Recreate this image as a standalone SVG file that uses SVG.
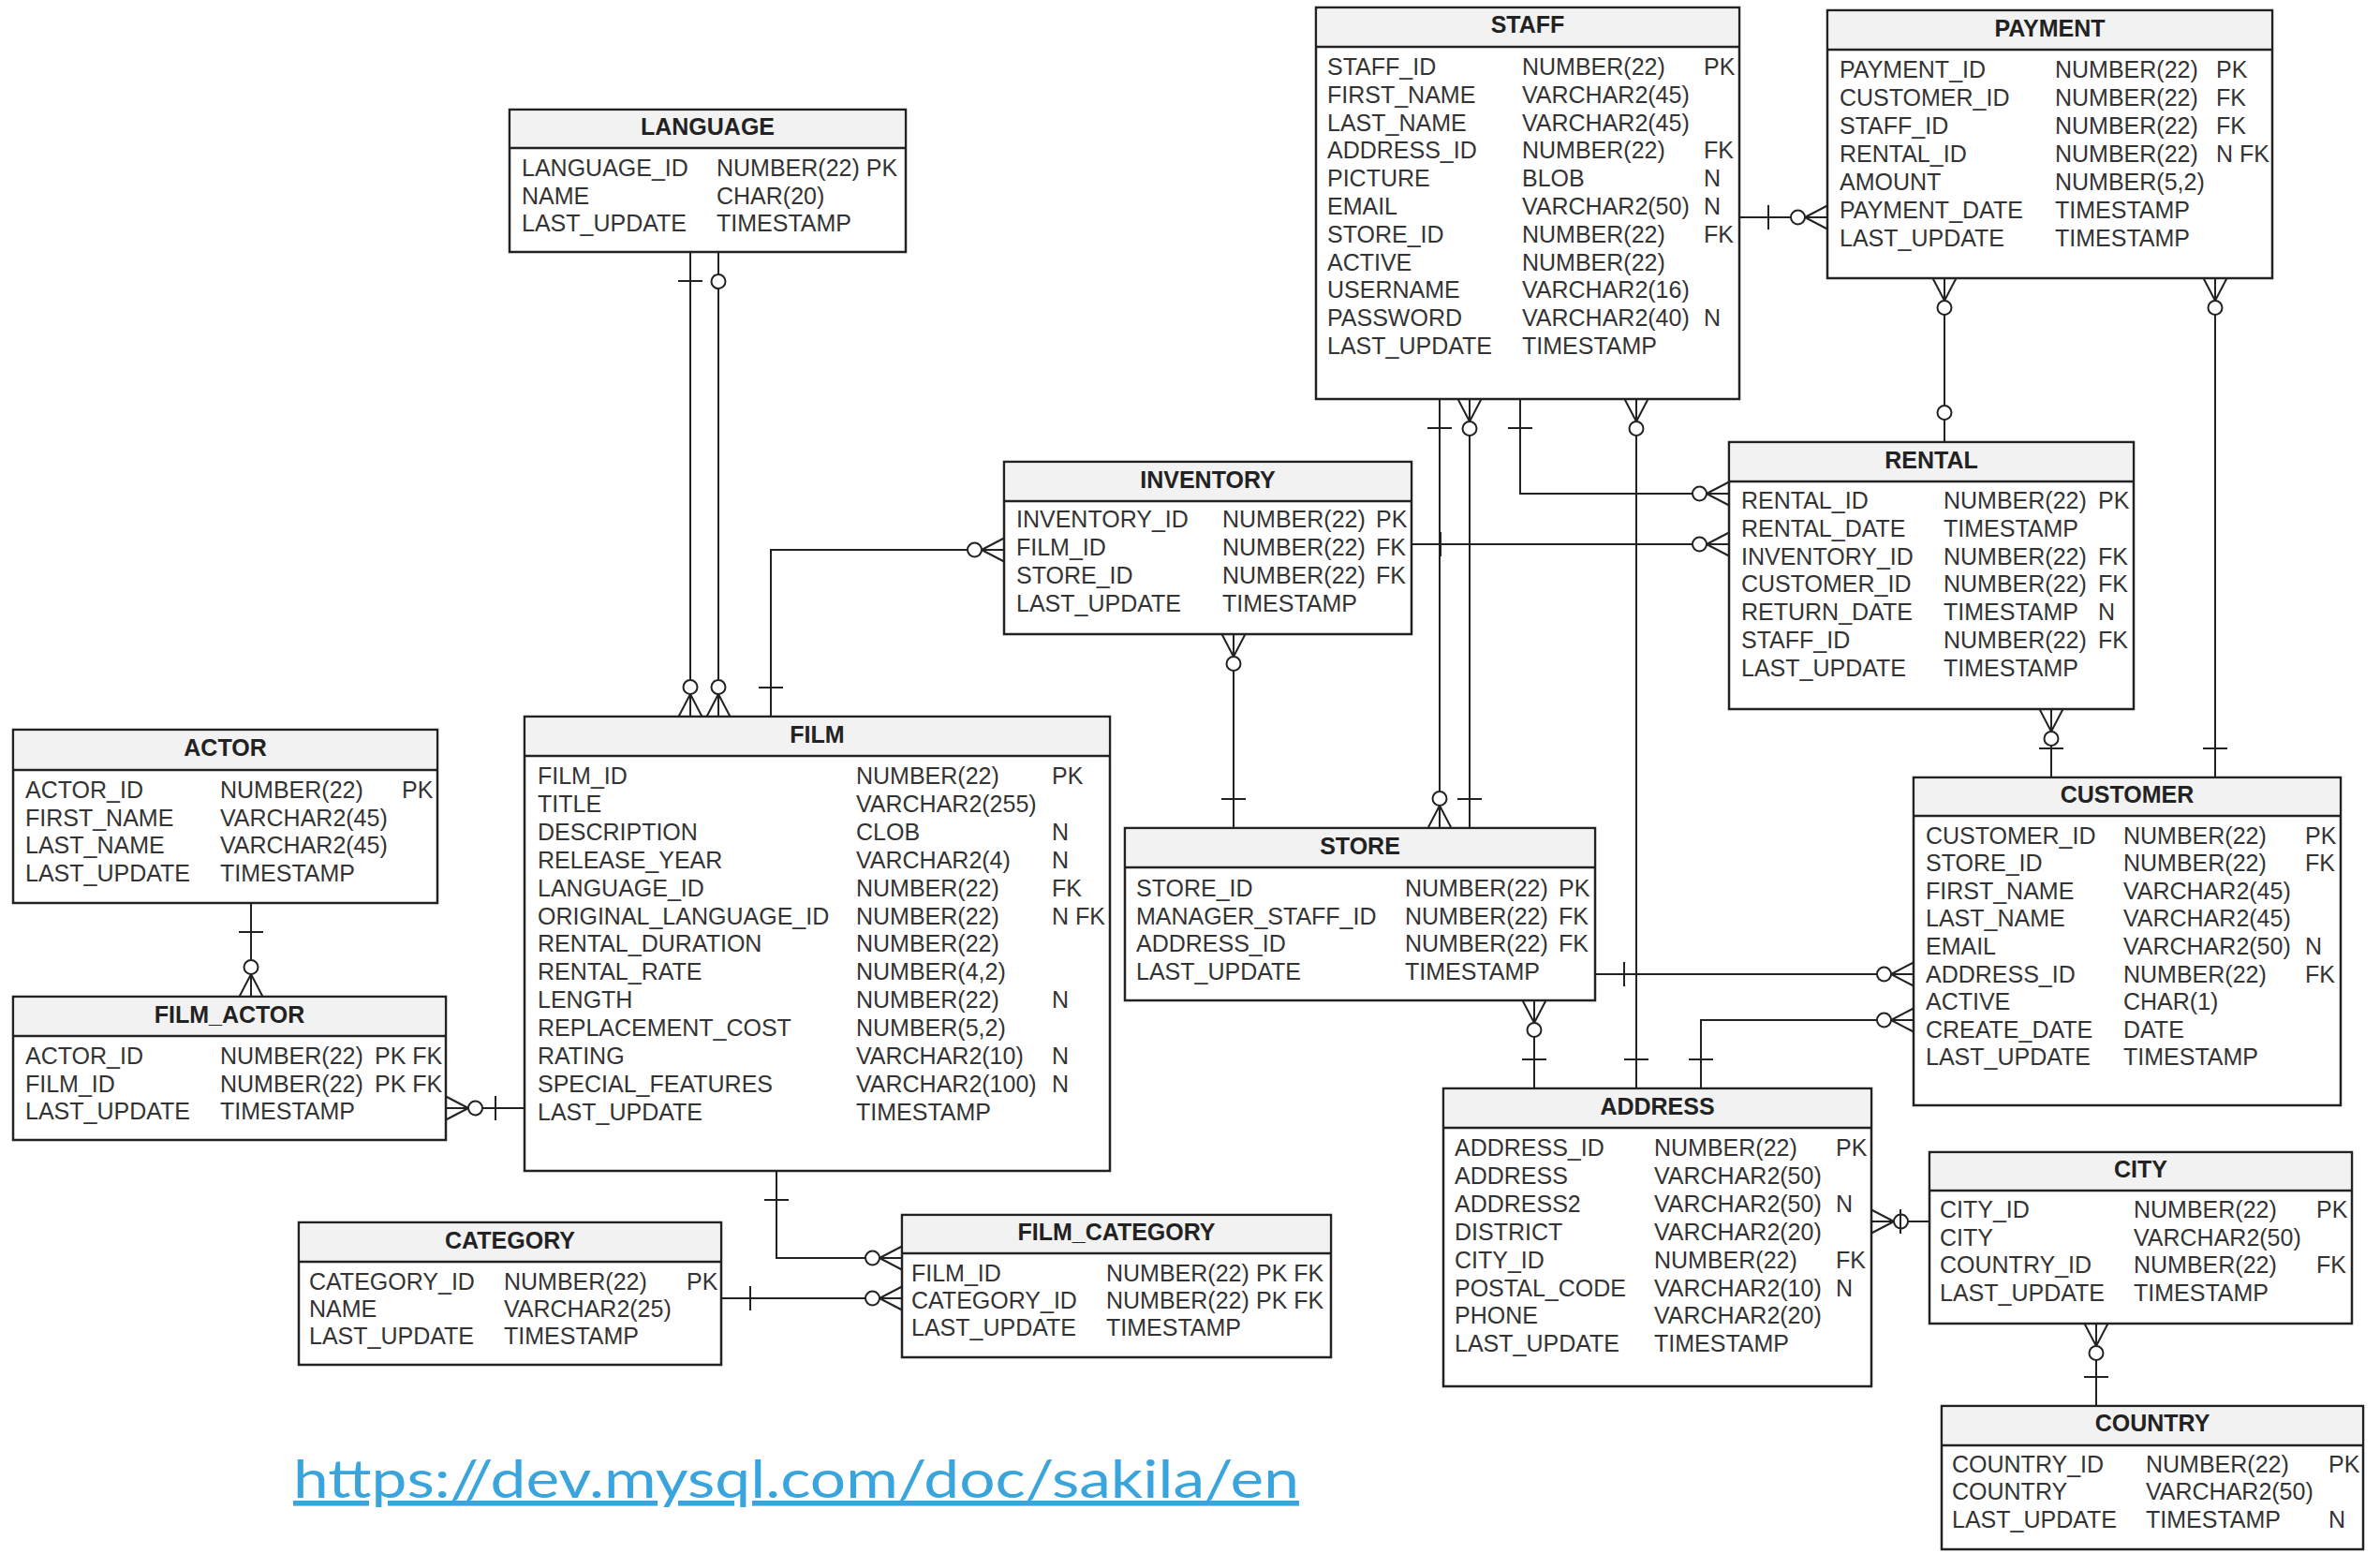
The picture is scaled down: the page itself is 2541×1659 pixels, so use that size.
<svg xmlns="http://www.w3.org/2000/svg" width="2541" height="1659" viewBox="0 0 2541 1659">
<style>
.box{fill:#fff;stroke:#222;stroke-width:2.5}
.hd{fill:#f2f2f2;stroke:none}
.hl{stroke:#222;stroke-width:2.5}
.t{font-family:"Liberation Sans",Arial,sans-serif;font-size:25px;font-weight:bold;fill:#222;text-anchor:middle}
.c{font-family:"Liberation Sans",Arial,sans-serif;font-size:25px;fill:#333}
.ln{fill:none;stroke:#222;stroke-width:2}
.url{font-family:Lato,"Open Sans",sans-serif;font-size:56px;fill:#3aa5dc;text-decoration:underline}
</style>
<defs>
<marker id="mo" markerUnits="userSpaceOnUse" orient="auto-start-reverse" overflow="visible" markerWidth="1" markerHeight="1" refX="0" refY="0">
<path d="M-24,0 L0,-12.5 M-24,0 L0,12.5" fill="none" stroke="#222" stroke-width="2"/>
<circle cx="-31.5" cy="0" r="7.5" fill="#fff" stroke="#222" stroke-width="2"/>
</marker>
<marker id="one" markerUnits="userSpaceOnUse" orient="auto-start-reverse" overflow="visible" markerWidth="1" markerHeight="1" refX="0" refY="0">
<path d="M-31,-13 V13" fill="none" stroke="#222" stroke-width="2"/>
</marker>
<marker id="zo" markerUnits="userSpaceOnUse" orient="auto-start-reverse" overflow="visible" markerWidth="1" markerHeight="1" refX="0" refY="0">
<circle cx="-31.5" cy="0" r="7.5" fill="#fff" stroke="#222" stroke-width="2"/>
</marker>
</defs>
<rect width="2541" height="1659" fill="#fff"/>

<g id="language">
<rect class="box" x="544" y="117" width="423" height="152"/>
<rect class="hd" x="545.5" y="118.5" width="420" height="39"/>
<line class="hl" x1="544" y1="158" x2="967" y2="158"/>
<text class="t" x="755.5" y="144">LANGUAGE</text>
<text class="c" x="557" y="188">LANGUAGE_ID</text><text class="c" x="765" y="188">NUMBER(22) PK</text>
<text class="c" x="557" y="217.5">NAME</text><text class="c" x="765" y="217.5">CHAR(20)</text>
<text class="c" x="557" y="247">LAST_UPDATE</text><text class="c" x="765" y="247">TIMESTAMP</text>
</g>

<g id="staff">
<rect class="box" x="1405" y="8" width="452" height="418"/>
<rect class="hd" x="1406.5" y="9.5" width="449" height="39"/>
<line class="hl" x1="1405" y1="50" x2="1857" y2="50"/>
<text class="t" x="1631" y="35">STAFF</text>
<text class="c" x="1417" y="80">STAFF_ID</text><text class="c" x="1625" y="80">NUMBER(22)</text><text class="c" x="1819" y="80">PK</text>
<text class="c" x="1417" y="109.8">FIRST_NAME</text><text class="c" x="1625" y="109.8">VARCHAR2(45)</text>
<text class="c" x="1417" y="139.6">LAST_NAME</text><text class="c" x="1625" y="139.6">VARCHAR2(45)</text>
<text class="c" x="1417" y="169.4">ADDRESS_ID</text><text class="c" x="1625" y="169.4">NUMBER(22)</text><text class="c" x="1819" y="169.4">FK</text>
<text class="c" x="1417" y="199.2">PICTURE</text><text class="c" x="1625" y="199.2">BLOB</text><text class="c" x="1819" y="199.2">N</text>
<text class="c" x="1417" y="229">EMAIL</text><text class="c" x="1625" y="229">VARCHAR2(50)</text><text class="c" x="1819" y="229">N</text>
<text class="c" x="1417" y="258.8">STORE_ID</text><text class="c" x="1625" y="258.8">NUMBER(22)</text><text class="c" x="1819" y="258.8">FK</text>
<text class="c" x="1417" y="288.6">ACTIVE</text><text class="c" x="1625" y="288.6">NUMBER(22)</text>
<text class="c" x="1417" y="318.4">USERNAME</text><text class="c" x="1625" y="318.4">VARCHAR2(16)</text>
<text class="c" x="1417" y="348.2">PASSWORD</text><text class="c" x="1625" y="348.2">VARCHAR2(40)</text><text class="c" x="1819" y="348.2">N</text>
<text class="c" x="1417" y="378">LAST_UPDATE</text><text class="c" x="1625" y="378">TIMESTAMP</text>
</g>

<g id="payment">
<rect class="box" x="1951" y="11" width="475" height="286"/>
<rect class="hd" x="1952.5" y="12.5" width="472" height="39"/>
<line class="hl" x1="1951" y1="53" x2="2426" y2="53"/>
<text class="t" x="2188.5" y="39">PAYMENT</text>
<text class="c" x="1964" y="83">PAYMENT_ID</text><text class="c" x="2194" y="83">NUMBER(22)</text><text class="c" x="2366" y="83">PK</text>
<text class="c" x="1964" y="113">CUSTOMER_ID</text><text class="c" x="2194" y="113">NUMBER(22)</text><text class="c" x="2366" y="113">FK</text>
<text class="c" x="1964" y="143">STAFF_ID</text><text class="c" x="2194" y="143">NUMBER(22)</text><text class="c" x="2366" y="143">FK</text>
<text class="c" x="1964" y="173">RENTAL_ID</text><text class="c" x="2194" y="173">NUMBER(22)</text><text class="c" x="2366" y="173">N FK</text>
<text class="c" x="1964" y="203">AMOUNT</text><text class="c" x="2194" y="203">NUMBER(5,2)</text>
<text class="c" x="1964" y="233">PAYMENT_DATE</text><text class="c" x="2194" y="233">TIMESTAMP</text>
<text class="c" x="1964" y="263">LAST_UPDATE</text><text class="c" x="2194" y="263">TIMESTAMP</text>
</g>

<g id="inventory">
<rect class="box" x="1072" y="493" width="435" height="184"/>
<rect class="hd" x="1073.5" y="494.5" width="432" height="39"/>
<line class="hl" x1="1072" y1="535" x2="1507" y2="535"/>
<text class="t" x="1289.5" y="521">INVENTORY</text>
<text class="c" x="1085" y="563">INVENTORY_ID</text><text class="c" x="1305" y="563">NUMBER(22)</text><text class="c" x="1469" y="563">PK</text>
<text class="c" x="1085" y="593">FILM_ID</text><text class="c" x="1305" y="593">NUMBER(22)</text><text class="c" x="1469" y="593">FK</text>
<text class="c" x="1085" y="623">STORE_ID</text><text class="c" x="1305" y="623">NUMBER(22)</text><text class="c" x="1469" y="623">FK</text>
<text class="c" x="1085" y="653">LAST_UPDATE</text><text class="c" x="1305" y="653">TIMESTAMP</text>
</g>

<g id="rental">
<rect class="box" x="1846" y="472" width="432" height="285"/>
<rect class="hd" x="1847.5" y="473.5" width="429" height="39"/>
<line class="hl" x1="1846" y1="514" x2="2278" y2="514"/>
<text class="t" x="2062" y="500">RENTAL</text>
<text class="c" x="1859" y="543">RENTAL_ID</text><text class="c" x="2075" y="543">NUMBER(22)</text><text class="c" x="2240" y="543">PK</text>
<text class="c" x="1859" y="572.8">RENTAL_DATE</text><text class="c" x="2075" y="572.8">TIMESTAMP</text>
<text class="c" x="1859" y="602.6">INVENTORY_ID</text><text class="c" x="2075" y="602.6">NUMBER(22)</text><text class="c" x="2240" y="602.6">FK</text>
<text class="c" x="1859" y="632.4">CUSTOMER_ID</text><text class="c" x="2075" y="632.4">NUMBER(22)</text><text class="c" x="2240" y="632.4">FK</text>
<text class="c" x="1859" y="662.2">RETURN_DATE</text><text class="c" x="2075" y="662.2">TIMESTAMP</text><text class="c" x="2240" y="662.2">N</text>
<text class="c" x="1859" y="692">STAFF_ID</text><text class="c" x="2075" y="692">NUMBER(22)</text><text class="c" x="2240" y="692">FK</text>
<text class="c" x="1859" y="721.8">LAST_UPDATE</text><text class="c" x="2075" y="721.8">TIMESTAMP</text>
</g>

<g id="actor">
<rect class="box" x="14" y="779" width="453" height="185"/>
<rect class="hd" x="15.5" y="780.5" width="450" height="40"/>
<line class="hl" x1="14" y1="822" x2="467" y2="822"/>
<text class="t" x="240.5" y="807">ACTOR</text>
<text class="c" x="27" y="852">ACTOR_ID</text><text class="c" x="235" y="852">NUMBER(22)</text><text class="c" x="429" y="852">PK</text>
<text class="c" x="27" y="881.6">FIRST_NAME</text><text class="c" x="235" y="881.6">VARCHAR2(45)</text>
<text class="c" x="27" y="911.2">LAST_NAME</text><text class="c" x="235" y="911.2">VARCHAR2(45)</text>
<text class="c" x="27" y="940.8">LAST_UPDATE</text><text class="c" x="235" y="940.8">TIMESTAMP</text>
</g>

<g id="film_actor">
<rect class="box" x="14" y="1064" width="462" height="153"/>
<rect class="hd" x="15.5" y="1065.5" width="459" height="39"/>
<line class="hl" x1="14" y1="1106" x2="476" y2="1106"/>
<text class="t" x="245" y="1092">FILM_ACTOR</text>
<text class="c" x="27" y="1136">ACTOR_ID</text><text class="c" x="235" y="1136">NUMBER(22)</text><text class="c" x="400" y="1136">PK FK</text>
<text class="c" x="27" y="1165.5">FILM_ID</text><text class="c" x="235" y="1165.5">NUMBER(22)</text><text class="c" x="400" y="1165.5">PK FK</text>
<text class="c" x="27" y="1195">LAST_UPDATE</text><text class="c" x="235" y="1195">TIMESTAMP</text>
</g>

<g id="film">
<rect class="box" x="560" y="765" width="625" height="485"/>
<rect class="hd" x="561.5" y="766.5" width="622" height="39"/>
<line class="hl" x1="560" y1="807" x2="1185" y2="807"/>
<text class="t" x="872.5" y="793">FILM</text>
<text class="c" x="574" y="837">FILM_ID</text><text class="c" x="914" y="837">NUMBER(22)</text><text class="c" x="1123" y="837">PK</text>
<text class="c" x="574" y="866.9">TITLE</text><text class="c" x="914" y="866.9">VARCHAR2(255)</text>
<text class="c" x="574" y="896.8">DESCRIPTION</text><text class="c" x="914" y="896.8">CLOB</text><text class="c" x="1123" y="896.8">N</text>
<text class="c" x="574" y="926.7">RELEASE_YEAR</text><text class="c" x="914" y="926.7">VARCHAR2(4)</text><text class="c" x="1123" y="926.7">N</text>
<text class="c" x="574" y="956.6">LANGUAGE_ID</text><text class="c" x="914" y="956.6">NUMBER(22)</text><text class="c" x="1123" y="956.6">FK</text>
<text class="c" x="574" y="986.5">ORIGINAL_LANGUAGE_ID</text><text class="c" x="914" y="986.5">NUMBER(22)</text><text class="c" x="1123" y="986.5">N FK</text>
<text class="c" x="574" y="1016.4">RENTAL_DURATION</text><text class="c" x="914" y="1016.4">NUMBER(22)</text>
<text class="c" x="574" y="1046.3">RENTAL_RATE</text><text class="c" x="914" y="1046.3">NUMBER(4,2)</text>
<text class="c" x="574" y="1076.2">LENGTH</text><text class="c" x="914" y="1076.2">NUMBER(22)</text><text class="c" x="1123" y="1076.2">N</text>
<text class="c" x="574" y="1106.1">REPLACEMENT_COST</text><text class="c" x="914" y="1106.1">NUMBER(5,2)</text>
<text class="c" x="574" y="1136">RATING</text><text class="c" x="914" y="1136">VARCHAR2(10)</text><text class="c" x="1123" y="1136">N</text>
<text class="c" x="574" y="1165.9">SPECIAL_FEATURES</text><text class="c" x="914" y="1165.9">VARCHAR2(100)</text><text class="c" x="1123" y="1165.9">N</text>
<text class="c" x="574" y="1195.8">LAST_UPDATE</text><text class="c" x="914" y="1195.8">TIMESTAMP</text>
</g>

<g id="store">
<rect class="box" x="1201" y="884" width="502" height="184"/>
<rect class="hd" x="1202.5" y="885.5" width="499" height="39"/>
<line class="hl" x1="1201" y1="926" x2="1703" y2="926"/>
<text class="t" x="1452" y="912">STORE</text>
<text class="c" x="1213" y="957">STORE_ID</text><text class="c" x="1500" y="957">NUMBER(22)</text><text class="c" x="1664" y="957">PK</text>
<text class="c" x="1213" y="986.7">MANAGER_STAFF_ID</text><text class="c" x="1500" y="986.7">NUMBER(22)</text><text class="c" x="1664" y="986.7">FK</text>
<text class="c" x="1213" y="1016.4">ADDRESS_ID</text><text class="c" x="1500" y="1016.4">NUMBER(22)</text><text class="c" x="1664" y="1016.4">FK</text>
<text class="c" x="1213" y="1046">LAST_UPDATE</text><text class="c" x="1500" y="1046">TIMESTAMP</text>
</g>

<g id="customer">
<rect class="box" x="2043" y="830" width="456" height="350"/>
<rect class="hd" x="2044.5" y="831.5" width="453" height="38"/>
<line class="hl" x1="2043" y1="871" x2="2499" y2="871"/>
<text class="t" x="2271" y="857">CUSTOMER</text>
<text class="c" x="2056" y="900.5">CUSTOMER_ID</text><text class="c" x="2267" y="900.5">NUMBER(22)</text><text class="c" x="2461" y="900.5">PK</text>
<text class="c" x="2056" y="930.1">STORE_ID</text><text class="c" x="2267" y="930.1">NUMBER(22)</text><text class="c" x="2461" y="930.1">FK</text>
<text class="c" x="2056" y="959.7">FIRST_NAME</text><text class="c" x="2267" y="959.7">VARCHAR2(45)</text>
<text class="c" x="2056" y="989.3">LAST_NAME</text><text class="c" x="2267" y="989.3">VARCHAR2(45)</text>
<text class="c" x="2056" y="1018.9">EMAIL</text><text class="c" x="2267" y="1018.9">VARCHAR2(50)</text><text class="c" x="2461" y="1018.9">N</text>
<text class="c" x="2056" y="1048.5">ADDRESS_ID</text><text class="c" x="2267" y="1048.5">NUMBER(22)</text><text class="c" x="2461" y="1048.5">FK</text>
<text class="c" x="2056" y="1078.1">ACTIVE</text><text class="c" x="2267" y="1078.1">CHAR(1)</text>
<text class="c" x="2056" y="1107.7">CREATE_DATE</text><text class="c" x="2267" y="1107.7">DATE</text>
<text class="c" x="2056" y="1137.3">LAST_UPDATE</text><text class="c" x="2267" y="1137.3">TIMESTAMP</text>
</g>

<g id="address">
<rect class="box" x="1541" y="1162" width="457" height="318"/>
<rect class="hd" x="1542.5" y="1163.5" width="454" height="39"/>
<line class="hl" x1="1541" y1="1204" x2="1998" y2="1204"/>
<text class="t" x="1769.5" y="1190">ADDRESS</text>
<text class="c" x="1553" y="1234">ADDRESS_ID</text><text class="c" x="1766" y="1234">NUMBER(22)</text><text class="c" x="1960" y="1234">PK</text>
<text class="c" x="1553" y="1263.9">ADDRESS</text><text class="c" x="1766" y="1263.9">VARCHAR2(50)</text>
<text class="c" x="1553" y="1293.8">ADDRESS2</text><text class="c" x="1766" y="1293.8">VARCHAR2(50)</text><text class="c" x="1960" y="1293.8">N</text>
<text class="c" x="1553" y="1323.7">DISTRICT</text><text class="c" x="1766" y="1323.7">VARCHAR2(20)</text>
<text class="c" x="1553" y="1353.6">CITY_ID</text><text class="c" x="1766" y="1353.6">NUMBER(22)</text><text class="c" x="1960" y="1353.6">FK</text>
<text class="c" x="1553" y="1383.5">POSTAL_CODE</text><text class="c" x="1766" y="1383.5">VARCHAR2(10)</text><text class="c" x="1960" y="1383.5">N</text>
<text class="c" x="1553" y="1413.4">PHONE</text><text class="c" x="1766" y="1413.4">VARCHAR2(20)</text>
<text class="c" x="1553" y="1443.3">LAST_UPDATE</text><text class="c" x="1766" y="1443.3">TIMESTAMP</text>
</g>

<g id="city">
<rect class="box" x="2060" y="1230" width="451" height="183"/>
<rect class="hd" x="2061.5" y="1231.5" width="448" height="38"/>
<line class="hl" x1="2060" y1="1271" x2="2511" y2="1271"/>
<text class="t" x="2285.5" y="1257">CITY</text>
<text class="c" x="2071" y="1300">CITY_ID</text><text class="c" x="2278" y="1300">NUMBER(22)</text><text class="c" x="2473" y="1300">PK</text>
<text class="c" x="2071" y="1329.7">CITY</text><text class="c" x="2278" y="1329.7">VARCHAR2(50)</text>
<text class="c" x="2071" y="1359.4">COUNTRY_ID</text><text class="c" x="2278" y="1359.4">NUMBER(22)</text><text class="c" x="2473" y="1359.4">FK</text>
<text class="c" x="2071" y="1389.1">LAST_UPDATE</text><text class="c" x="2278" y="1389.1">TIMESTAMP</text>
</g>

<g id="country">
<rect class="box" x="2073" y="1501" width="450" height="153"/>
<rect class="hd" x="2074.5" y="1502.5" width="447" height="39"/>
<line class="hl" x1="2073" y1="1543" x2="2523" y2="1543"/>
<text class="t" x="2298" y="1528">COUNTRY</text>
<text class="c" x="2084" y="1572">COUNTRY_ID</text><text class="c" x="2291" y="1572">NUMBER(22)</text><text class="c" x="2486" y="1572">PK</text>
<text class="c" x="2084" y="1601.3">COUNTRY</text><text class="c" x="2291" y="1601.3">VARCHAR2(50)</text>
<text class="c" x="2084" y="1630.6">LAST_UPDATE</text><text class="c" x="2291" y="1630.6">TIMESTAMP</text><text class="c" x="2486" y="1630.6">N</text>
</g>

<g id="category">
<rect class="box" x="319" y="1305" width="451" height="152"/>
<rect class="hd" x="320.5" y="1306.5" width="448" height="39"/>
<line class="hl" x1="319" y1="1347" x2="770" y2="1347"/>
<text class="t" x="544.5" y="1333">CATEGORY</text>
<text class="c" x="330" y="1377">CATEGORY_ID</text><text class="c" x="538" y="1377">NUMBER(22)</text><text class="c" x="733" y="1377">PK</text>
<text class="c" x="330" y="1406">NAME</text><text class="c" x="538" y="1406">VARCHAR2(25)</text>
<text class="c" x="330" y="1435">LAST_UPDATE</text><text class="c" x="538" y="1435">TIMESTAMP</text>
</g>

<g id="film_category">
<rect class="box" x="963" y="1297" width="458" height="152"/>
<rect class="hd" x="964.5" y="1298.5" width="455" height="38"/>
<line class="hl" x1="963" y1="1338" x2="1421" y2="1338"/>
<text class="t" x="1192" y="1324">FILM_CATEGORY</text>
<text class="c" x="973" y="1368">FILM_ID</text><text class="c" x="1181" y="1368">NUMBER(22)</text><text class="c" x="1341" y="1368">PK FK</text>
<text class="c" x="973" y="1397">CATEGORY_ID</text><text class="c" x="1181" y="1397">NUMBER(22)</text><text class="c" x="1341" y="1397">PK FK</text>
<text class="c" x="973" y="1426">LAST_UPDATE</text><text class="c" x="1181" y="1426">TIMESTAMP</text>
</g>

<g id="connectors">
<path class="ln" d="M737,269 V765" marker-start="url(#one)" marker-end="url(#mo)"/>
<path class="ln" d="M767,269 V765" marker-start="url(#zo)" marker-end="url(#mo)"/>
<path class="ln" d="M823,765 V587 H1072" marker-start="url(#one)" marker-end="url(#mo)"/>
<path class="ln" d="M268,964 V1064" marker-start="url(#one)" marker-end="url(#mo)"/>
<path class="ln" d="M560,1183 H476" marker-start="url(#one)" marker-end="url(#mo)"/>
<path class="ln" d="M829,1250 V1343 H963" marker-start="url(#one)" marker-end="url(#mo)"/>
<path class="ln" d="M770,1386 H963" marker-start="url(#one)" marker-end="url(#mo)"/>
<path class="ln" d="M1317,677 V884" marker-start="url(#mo)" marker-end="url(#one)"/>
<path class="ln" d="M1537,426 V884" marker-start="url(#one)" marker-end="url(#mo)"/>
<path class="ln" d="M1569,426 V884" marker-start="url(#mo)" marker-end="url(#one)"/>
<path class="ln" d="M1623,426 V527 H1846" marker-start="url(#one)" marker-end="url(#mo)"/>
<path class="ln" d="M1507,581 H1846" marker-start="url(#one)" marker-end="url(#mo)"/>
<path class="ln" d="M1747,426 V1162" marker-start="url(#mo)" marker-end="url(#one)"/>
<path class="ln" d="M1638,1068 V1162" marker-start="url(#mo)" marker-end="url(#one)"/>
<path class="ln" d="M1703,1040 H2043" marker-start="url(#one)" marker-end="url(#mo)"/>
<path class="ln" d="M1816,1162 V1089 H2043" marker-start="url(#one)" marker-end="url(#mo)"/>
<path class="ln" d="M1998,1304 H2060" marker-start="url(#mo)" marker-end="url(#one)"/>
<path class="ln" d="M2238,1413 V1501" marker-start="url(#mo)" marker-end="url(#one)"/>
<path class="ln" d="M1857,232 H1951" marker-start="url(#one)" marker-end="url(#mo)"/>
<path class="ln" d="M2076,297 V472" marker-start="url(#mo)" marker-end="url(#zo)"/>
<path class="ln" d="M2365,297 V830" marker-start="url(#mo)" marker-end="url(#one)"/>
<path class="ln" d="M2190,757 V830" marker-start="url(#mo)" marker-end="url(#one)"/>
</g>

<g id="link">
<text class="url" x="313" y="1599" textLength="1074" lengthAdjust="spacingAndGlyphs">https://dev.mysql.com/doc/sakila/en</text>
</g>
</svg>
